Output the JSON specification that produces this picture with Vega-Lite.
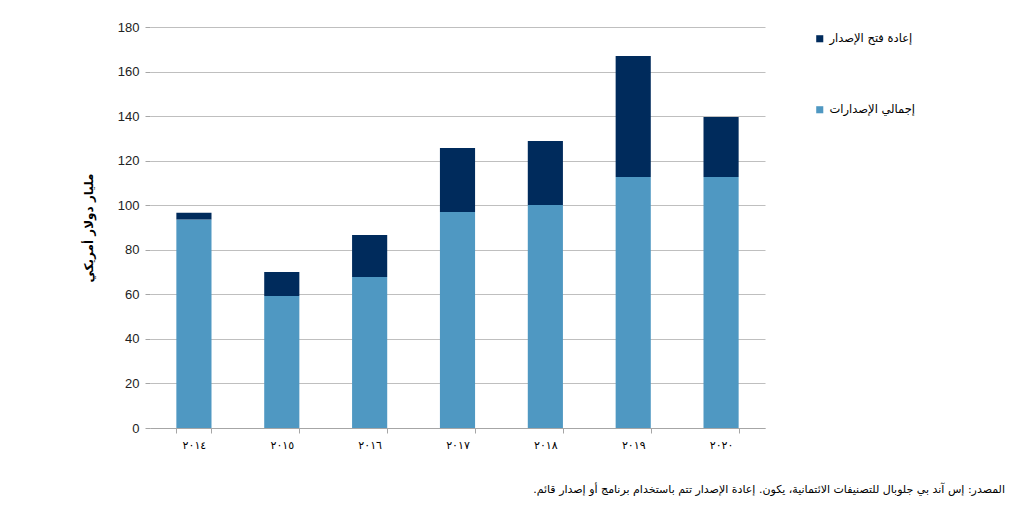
{
  "$schema": "https://vega.github.io/schema/vega-lite/v6.json",
  "width": 615,
  "height": 401,
  "autosize": {"type": "none"},
  "padding": {"left": 150, "top": 27, "right": 261, "bottom": 86},
  "background": "white",
  "title": {
    "text": "المصدر: إس آند بي جلوبال للتصنيفات الائتمانية، يكون. إعادة الإصدار تتم باستخدام برنامج أو إصدار قائم.‏",
    "orient": "bottom",
    "anchor": "end",
    "frame": "group",
    "dx": 240,
    "offset": 34,
    "font": "DejaVu Sans",
    "fontSize": 11,
    "fontWeight": "normal",
    "color": "#000000"
  },
  "data": {
    "values": [
      {"year": "٢٠١٤", "series": "إجمالي الإصدارات", "value": 93.6},
      {"year": "٢٠١٤", "series": "إعادة فتح الإصدار", "value": 3.0},
      {"year": "٢٠١٥", "series": "إجمالي الإصدارات", "value": 59.2},
      {"year": "٢٠١٥", "series": "إعادة فتح الإصدار", "value": 10.8},
      {"year": "٢٠١٦", "series": "إجمالي الإصدارات", "value": 67.8},
      {"year": "٢٠١٦", "series": "إعادة فتح الإصدار", "value": 18.8},
      {"year": "٢٠١٧", "series": "إجمالي الإصدارات", "value": 97.0},
      {"year": "٢٠١٧", "series": "إعادة فتح الإصدار", "value": 28.7},
      {"year": "٢٠١٨", "series": "إجمالي الإصدارات", "value": 100.1},
      {"year": "٢٠١٨", "series": "إعادة فتح الإصدار", "value": 28.7},
      {"year": "٢٠١٩", "series": "إجمالي الإصدارات", "value": 112.7},
      {"year": "٢٠١٩", "series": "إعادة فتح الإصدار", "value": 54.3},
      {"year": "٢٠٢٠", "series": "إجمالي الإصدارات", "value": 112.7},
      {"year": "٢٠٢٠", "series": "إعادة فتح الإصدار", "value": 26.9}
    ]
  },
  "mark": {"type": "bar"},
  "encoding": {
    "x": {
      "field": "year",
      "type": "nominal",
      "sort": null,
      "scale": {"paddingInner": 0.6, "paddingOuter": 0.3},
      "axis": {
        "title": null,
        "labelAngle": 0,
        "tickBand": "extent",
        "domainColor": "#a6a6a6",
        "tickColor": "#a6a6a6",
        "tickSize": 5,
        "labelFont": "DejaVu Sans",
        "labelFontSize": 11,
        "labelColor": "#000000",
        "labelPadding": 6
      }
    },
    "y": {
      "field": "value",
      "type": "quantitative",
      "stack": "zero",
      "scale": {"domain": [0, 180], "nice": false},
      "axis": {
        "values": [0, 20, 40, 60, 80, 100, 120, 140, 160, 180],
        "title": "مليار دولار أمريكي",
        "titleFont": "DejaVu Sans",
        "titleFontSize": 12,
        "titleFontWeight": "bold",
        "titleColor": "#000000",
        "titlePadding": 22,
        "labelFont": "Liberation Sans",
        "labelFontSize": 13,
        "labelColor": "#222222",
        "labelPadding": 6,
        "domain": false,
        "tickColor": "#a6a6a6",
        "tickSize": 5,
        "gridColor": "#bfbfbf",
        "gridWidth": 1
      }
    },
    "color": {
      "field": "series",
      "type": "nominal",
      "scale": {
        "domain": ["إعادة فتح الإصدار", "إجمالي الإصدارات"],
        "range": ["#002b5c", "#4f98c2"]
      },
      "legend": {
        "title": null,
        "orient": "none",
        "legendX": 664,
        "legendY": 6,
        "symbolType": "square",
        "symbolSize": 50,
        "symbolStrokeWidth": 0,
        "rowPadding": 58,
        "labelFont": "DejaVu Sans",
        "labelFontSize": 11.5,
        "labelColor": "#000000",
        "labelOffset": 4
      }
    },
    "order": {"field": "series", "sort": "ascending"}
  },
  "config": {"view": {"stroke": null}}
}
